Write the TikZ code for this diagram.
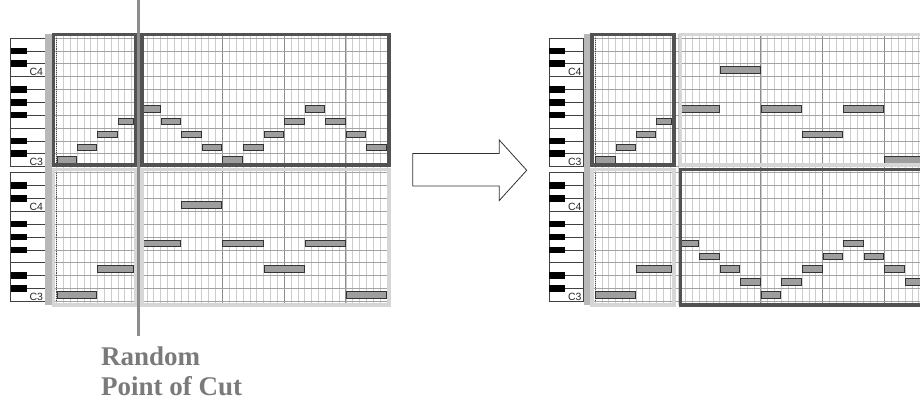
\documentclass[tikz,border=0pt]{standalone}
\usepackage{fontspec}
\setmainfont{Liberation Serif}
\newfontfamily\keyfont{Liberation Sans}
\usepackage{tikz}
\definecolor{cutgray}{HTML}{8C8C8C}
\definecolor{labgray}{HTML}{7A7A7A}
\tikzset{
  keyedge/.style={draw=black!75,line width=0.6pt},
  keylabel/.style={font=\keyfont\fontsize{10.5}{10.5}\selectfont,text=black!85,inner sep=0.3pt},
  gutter/.style={fill=black!28},
  gridcol/.style={draw=black!20,line width=0.5pt},
  gridbar/.style={draw=black!45,line width=0.7pt},
  gridrow/.style={draw=black!36,line width=0.6pt},
  rolltick/.style={draw=black!70,line width=1pt,dash pattern=on 0.6pt off 1.3pt},
  notebar/.style={fill=black!38,draw=black!80,line width=0.9pt},
  framedark/.style={draw=black!68,line width=3.5pt},
  framelight/.style={draw=black!16,line width=3.5pt},
  cutline/.style={draw=cutgray,line width=3pt},
  cuttext/.style={text=labgray,font=\fontsize{27}{30}\selectfont\bfseries,inner sep=0pt,anchor=base west},
  bigarrow/.style={draw=black!80,fill=white,line width=0.8pt},
}
% phrases as beat/length/row (row 0 = C3)
\newcommand{\phraseAleft}{0/1/0,1/1/1,2/1/2,3/1/3}
\newcommand{\phraseAright}{0/1/4,1/1/3,2/1/2,3/1/1,4/1/0,5/1/1,6/1/2,7/1/3,8/1/4,9/1/3,10/1/2,11/1/1}
\newcommand{\phraseBleft}{0/2/0,2/2/2}
\newcommand{\phraseBright}{0/2/4,2/2/7,4/2/4,6/2/2,8/2/4,10/2/0}
% keyboard of one roll, #1 = top of its rows
\newcommand{\pianokeys}[1]{%
  \draw[keyedge,fill=white] (10.7,#1) rectangle (45,#1+128.6);
  \foreach \kb in {3,7} \draw[keyedge] (10.7,#1+128.6-\kb*12.86) -- (45,#1+128.6-\kb*12.86);
  \foreach \kb in {1,2,4,5,6,8,9} {
    \fill (10.7,#1+128.6-\kb*12.86-3.3) rectangle (26.7,#1+128.6-\kb*12.86+3.3);
    \draw[keyedge] (26.7,#1+128.6-\kb*12.86) -- (45,#1+128.6-\kb*12.86);
  }
  \node[keylabel,anchor=south east] (lowc) at (43.5,#1+128) {C3};
  \node[keylabel,anchor=south east] (midc) at (43.5,#1+128.6-7*12.86-0.6) {C4};
  \fill[gutter] (45,#1-4) rectangle (51.5,#1+132.5);
}
% grid lines behind one roll
\newcommand{\rollgrid}[1]{%
  \fill[white] (52,#1-4) rectangle (391,#1+132.5);
  \foreach \cl in {0,...,11} \draw[gridcol] (56.6+6.8*\cl,#1-4) -- ++(0,136.5);
  \foreach \cl in {0,...,36} \draw[gridcol] (140+6.86*\cl,#1-4) -- ++(0,136.5);
  \foreach \cl in {4,7,10} \draw[gridbar] (140+20.58*\cl,#1-4) -- ++(0,136.5);
  \foreach \cl in {0,...,10} \draw[gridrow] (52,#1+\cl*12.86) -- (391,#1+\cl*12.86);
  \draw[rolltick] (56.6,#1) -- (56.6,#1+128.6);
}
% notes: #1 top of the roll, #2 first beat, #3 beat width, #4 phrase, #5 right edge of the part
\newcommand{\rollnotes}[5]{%
  \foreach \nb/\nl/\nr in #4 {
    \pgfmathsetmacro\noteend{min(#2+#3*\nb+#3*\nl-0.5,#5)}
    \draw[notebar] (#2+#3*\nb+0.5,#1+128.6-\nr*12.86-12.86+3.2) rectangle (\noteend,#1+128.6-\nr*12.86-3.2);
  }
}

\begin{document}
\begin{tikzpicture}[x=1pt,y=-1pt]
\useasboundingbox (0,0) rectangle (920,402);
\clip (0,0) rectangle (920,402);

% the two parents
\foreach \t in {38,172.7} {\pianokeys{\t} \rollgrid{\t}}
\rollnotes{38}{56.6}{20.4}{\phraseAleft}{133.2}
\rollnotes{38}{140}{20.58}{\phraseAright}{387}
\rollnotes{172.7}{56.6}{20.4}{\phraseBleft}{133.2}
\rollnotes{172.7}{140}{20.58}{\phraseBright}{387}
\draw[framelight] (53.5,169.5) rectangle (135.5,305);
\draw[framelight] (141.8,169.5) rectangle (388.9,305);
\draw[framedark] (53.5,34.5) rectangle (135.5,165);
\draw[framedark] (141.8,34.5) rectangle (388.9,165);

% cut
\coordinate (cuttop) at (138.8,0);
\coordinate (cutend) at (138.8,336);
\draw[cutline] (cuttop) -- (cutend);
\node[cuttext] (cutword) at (101,365) {Random};
\node[cuttext] (cutwhat) at (101,395) {Point of Cut};

% arrow
\draw[bigarrow] (412.7,153.5) -- (499.3,153.5) -- (499.3,140) -- (526.7,170.3)
  -- (499.3,200.5) -- (499.3,186) -- (412.7,186) -- cycle;

% the two children
\begin{scope}[shift={(538.5,0)}]
\foreach \t in {38,172.7} {\pianokeys{\t} \rollgrid{\t}}
\rollnotes{38}{56.6}{20.4}{\phraseAleft}{133.2}
\rollnotes{38}{140}{20.58}{\phraseBright}{387}
\rollnotes{172.7}{56.6}{20.4}{\phraseBleft}{133.2}
\rollnotes{172.7}{140}{20.58}{\phraseAright}{387}
\draw[framelight] (141.8,34.5) rectangle (388.9,165);
\draw[framelight] (53.5,169.5) rectangle (135.5,305);
\draw[framedark] (53.5,34.5) rectangle (135.5,165);
\draw[framedark] (141.8,169.5) rectangle (388.9,305);
\end{scope}
\end{tikzpicture}
\end{document}
